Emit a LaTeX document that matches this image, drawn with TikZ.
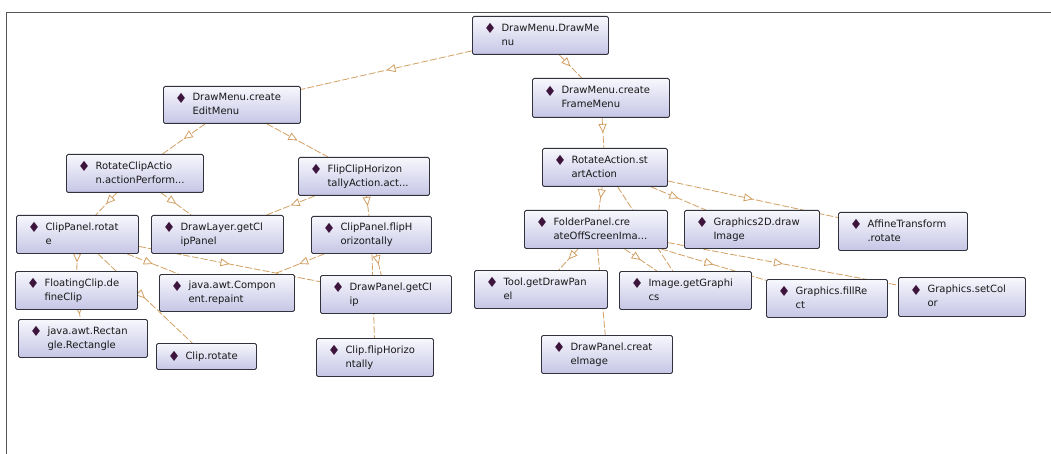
\documentclass[tikz,border=0pt]{standalone}
\usepackage{fontspec}
\setmainfont{DejaVu Sans}
\usetikzlibrary{arrows.meta,decorations.markings,backgrounds}
\definecolor{edgec}{RGB}{210,160,100}
\definecolor{boxline}{RGB}{50,50,60}
\definecolor{boxtop}{RGB}{247,247,253}
\definecolor{boxbot}{RGB}{198,198,230}
\definecolor{diac}{RGB}{60,20,60}
\definecolor{framec}{RGB}{85,85,85}
\renewcommand\arraystretch{1.17}
\newcommand\dia{\raisebox{-2.4pt}{\fontsize{14}{14}\selectfont\textcolor{diac}{\char"2666}}}
\tikzset{
  mbox/.style={draw=boxline, line width=0.9pt, rounded corners=1.5pt,
    top color=boxtop, bottom color=boxbot, inner sep=0pt,
    font=\fontsize{10}{12}\selectfont, text=black!90},
  call/.style={draw=edgec, line width=0.8pt, dash pattern=on 7pt off 2pt,
    postaction={decorate},
    decoration={markings, mark=at position 0.5 with
      {\arrow[solid, edgec]{Triangle[length=9pt,width=8pt,fill=white]}}}},
}
\newcommand\mnode[6]{\node[mbox, minimum width=#4pt, minimum height=#5pt,
  anchor=north west] (#1) at (#2,#3)
  {\makebox[#4pt][l]{\hspace{11.5pt}\begin{tabular}{@{}l@{\hspace{5pt}}l@{}}\dia & #6\end{tabular}}};}
\begin{document}
\begin{tikzpicture}[x=1pt,y=-1pt]
\useasboundingbox (0,0) rectangle (1051,454);
\draw[framec, line width=1.3pt] (1051,12.5) -- (6.5,12.5) -- (6.5,454);

\mnode{DM}{472}{16}{136}{38}{DrawMenu.DrawMe\\ & nu}
\mnode{CEM}{163}{86}{137}{37}{DrawMenu.create\\ & EditMenu}
\mnode{CFM}{532}{78}{137}{39}{DrawMenu.create\\ & FrameMenu}
\mnode{RCA}{66}{154}{137}{38}{RotateClipActio\\ & n.actionPerform...}
\mnode{FCH}{298}{157}{131}{38}{FlipClipHorizon\\ & tallyAction.act...}
\mnode{RA}{542}{148}{125}{38}{RotateAction.st\\ & artAction}
\mnode{CPR}{16}{215}{122}{38}{ClipPanel.rotat\\ & e}
\mnode{DLG}{151}{215}{132}{38}{DrawLayer.getCl\\ & ipPanel}
\mnode{CPF}{311}{216}{120}{37}{ClipPanel.flipH\\ & orizontally}
\mnode{FP}{524}{210}{143}{38}{FolderPanel.cre\\ & ateOffScreenIma...}
\mnode{G2D}{684}{210}{135}{38}{Graphics2D.draw\\ & Image}
\mnode{AT}{838}{212}{129}{38}{AffineTransform\\ & .rotate}
\mnode{FCD}{15}{271}{122}{38}{FloatingClip.de\\ & fineClip}
\mnode{CR}{159}{274}{135}{37}{java.awt.Compon\\ & ent.repaint}
\mnode{DPG}{320}{275}{131}{38}{DrawPanel.getCl\\ & ip}
\mnode{TGD}{474}{270}{133}{38}{Tool.getDrawPan\\ & el}
\mnode{IG}{619}{271}{132}{38}{Image.getGraphi\\ & cs}
\mnode{GFR}{766}{279}{121}{38}{Graphics.fillRe\\ & ct}
\mnode{GSC}{898}{277}{127}{39}{Graphics.setCol\\ & or}
\mnode{REC}{18}{319}{129}{38}{java.awt.Rectan\\ & gle.Rectangle}
\mnode{CLR}{156}{343}{100}{26}{Clip.rotate}
\mnode{CFH}{316}{338}{117}{38}{Clip.flipHorizo\\ & ntally}
\mnode{DPC}{541}{335}{131}{38}{DrawPanel.creat\\ & eImage}

\begin{scope}[on background layer]
\fill[white] (0,0) rectangle (1051,454);
\draw[call] (DM) -- (CEM);
\draw[call] (DM) -- (CFM);
\draw[call] (CEM) -- (RCA);
\draw[call] (CEM) -- (FCH);
\draw[call] (CFM) -- (RA);
\draw[call] (RCA) -- (CPR);
\draw[call] (RCA) -- (DLG);
\draw[call] (FCH) -- (DLG);
\draw[call] (FCH) -- (CPF);
\draw[call] (CPR) -- (FCD);
\draw[call] (CPR) -- (CR);
\draw[call] (CPR) -- (DPG);
\draw[call] (CPR) -- (CLR);
\draw[call] (CPF) -- (CR);
\draw[call] (CPF) -- (DPG);
\draw[call] (CPF) -- (CFH);
\draw[call] (FCD) -- (REC);
\draw[call] (RA) -- (FP);
\draw[call] (RA) -- (G2D);
\draw[call] (RA) -- (AT);
\draw[call] (RA) -- (IG);
\draw[call] (FP) -- (TGD);
\draw[call] (FP) -- (IG);
\draw[call] (FP) -- (GFR);
\draw[call] (FP) -- (GSC);
\draw[call] (FP) -- (DPC);
\end{scope}
\end{tikzpicture}
\end{document}
